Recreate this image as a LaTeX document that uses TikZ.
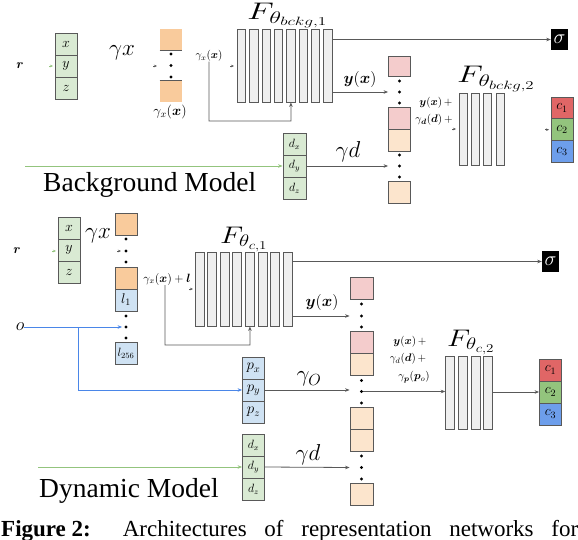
\RequirePackage{fix-cm}
\documentclass[tikz,border=0pt]{standalone}
\usepackage{fontspec}
\usepackage{amsmath}
\usepackage{bm}
\usepackage{graphicx}
\usetikzlibrary{arrows.meta,positioning}
\newfontfamily\fuentepie{Liberation Serif}

\definecolor{linea}{HTML}{595959}
\definecolor{verdeclaro}{HTML}{D9EAD3}
\definecolor{naranja}{HTML}{F9CB9C}
\definecolor{naranjaclaro}{HTML}{FCE5CD}
\definecolor{rosa}{HTML}{F4CCCC}
\definecolor{azulclaro}{HTML}{CFE2F3}
\definecolor{rojoc}{HTML}{E06666}
\definecolor{verdec}{HTML}{93C47D}
\definecolor{azulc}{HTML}{6D9EEB}
\definecolor{grisbarra}{HTML}{EFEFEF}
\definecolor{verdelinea}{HTML}{93C47D}
\definecolor{azullinea}{HTML}{4A86E8}

\tikzset{
  celda/.style={draw=linea, line width=0.8pt, minimum width=22pt, minimum height=22pt, inner sep=0pt, font=\fontsize{14}{16}\selectfont},
  barra/.style={draw=linea, fill=grisbarra, line width=0.8pt, minimum width=8.5pt, minimum height=73pt, inner sep=0pt},
  punto/.style={circle, fill=black, inner sep=0pt, minimum size=3.4pt},
  flecha/.style={draw=linea, line width=0.8pt, -{Stealth[length=4.5pt,width=3.5pt]}},
  puntita/.style={draw=linea, line width=0.4pt, -{Stealth[length=3pt,width=2.5pt]}},
  texto/.style={inner sep=0pt, font=\fontsize{#1}{#1}\selectfont},
  titulo/.style={inner sep=0pt, anchor=base west, font=\fontsize{24}{24}\selectfont},
  modelo/.style={inner sep=0pt, anchor=base west, font=\fuentepie\fontsize{27.5}{28}\selectfont},
}

\begin{document}
\begin{tikzpicture}[x=1pt, y=-1pt]
  \useasboundingbox (0,0) rectangle (578,540);
  \fill[white] (0,0) rectangle (578,540);

  % ---------- Modelo de fondo ----------
  % Entrada r y caja xyz
  \node[texto=13] (r1) at (20,66) {$\bm r$};
  \node[celda, fill=verdeclaro] (x1) at (66,44) {$x$};
  \node[celda, fill=verdeclaro] (y1) at (66,66) {$y$};
  \node[celda, fill=verdeclaro] (z1) at (66,88) {$z$};
  \coordinate (pr1) at (49,66);
  \draw[puntita, draw=verdelinea] (pr1) -- ++(4,0);

  % Codificacion gamma_x
  \node[texto=23] (gx1) at (122,53) {$\gamma x$};
  \node[celda, draw=none, fill=naranja, minimum height=21pt] (ga1) at (171,39.5) {};
  \draw[linea, line width=0.8pt] (ga1.south west) -- (ga1.south east);
  \node[punto] (gp1) at (171,54) {};
  \node[punto] (gp2) at (171,65.5) {};
  \node[punto] (gp3) at (171,77) {};
  \node[celda, draw=none, fill=naranja, minimum height=21pt] (ga2) at (171,91.5) {};
  \draw[linea, line width=0.8pt] (ga2.north west) -- (ga2.north east);
  \coordinate (pg1) at (153,66);
  \draw[puntita] (pg1) -- ++(4,0);
  \node[texto=14] (gxa) at (170,112) {$\gamma_x(\bm x)$};
  \node[texto=11] (gxb) at (209,56) {$\gamma_x(\bm x)$};
  \coordinate (pf1) at (230,66);
  \draw[puntita] (pf1) -- ++(4,0);

  % Red F_{bckg,1}
  \foreach \i in {1,...,8}
    \node[barra] (fa\i) at ({241.5+12.35*(\i-1)},65.5) {};
  \node[titulo] (tfa) at (247,19.5) {\scalebox{1.45}[1]{$F_{\theta_{bckg,1}}$}};
  \coordinate (lazo1) at (290.9,121);
  \draw[flecha] (gxb.south) |- (lazo1) -- (fa5.south);

  % Salida sigma
  \node[fill=black, text=white, minimum width=17pt, minimum height=21pt, inner sep=0pt, texto=20] (sig1) at (559.5,39.5) {$\sigma$};
  \draw[flecha] (fa8.east |- sig1) -- (sig1.west);

  % Pila de caracteristicas
  \node[celda, fill=rosa, minimum height=20pt] (pk1) at (399.5,66) {};
  \node[punto] (kp1) at (399.5,81) {};
  \node[punto] (kp2) at (399.5,92) {};
  \node[punto] (kp3) at (399.5,103) {};
  \node[celda, fill=rosa] (pk2) at (399.5,118) {};
  \node[celda, fill=naranjaclaro] (lo1) at (399.5,140) {};
  \node[punto] (kp4) at (399.5,155) {};
  \node[punto] (kp5) at (399.5,166) {};
  \node[punto] (kp6) at (399.5,177) {};
  \node[celda, fill=naranjaclaro] (lo2) at (399.5,192) {};
  \draw[flecha] (fa8.east |- kp2) -- (kp2 -| pk1.west);
  \node[texto=16] (yx1) at (360,80) {$\bm y(\bm x)$};

  % Direccion d
  \node[celda, fill=verdeclaro, minimum width=23pt, texto=12] (dx1) at (294.5,144) {$d_x$};
  \node[celda, fill=verdeclaro, minimum width=23pt, texto=12] (dy1) at (294.5,166) {$d_y$};
  \node[celda, fill=verdeclaro, minimum width=23pt, texto=12] (dz1) at (294.5,188) {$d_z$};
  \coordinate (vd1) at (25,166);
  \draw[flecha, draw=verdelinea] (vd1) -- (dy1.west);
  \draw[flecha] (dy1.east) -- (kp5 -| lo1.west);
  \node[texto=23] (gd1) at (348,152) {$\gamma d$};
  \node[modelo] (fondo) at (43,192) {Background Model};

  % Red F_{bckg,2}
  \node[texto=11] (sa1) at (436,103) {$\bm y(\bm x)\,+$};
  \node[texto=11] (sa2) at (434,120) {$\gamma_{\bm d}(\bm d)\,+$};
  \foreach \i in {1,...,4}
    \node[barra, minimum width=8pt, minimum height=72pt] (fb\i) at ({463.3+12.2*(\i-1)},129) {};
  \coordinate (pf2) at (452,129);
  \draw[puntita] (pf2) -- ++(4,0);
  \node[titulo] (tfb) at (457,83) {\scalebox{1.4}[1]{$F_{\theta_{bckg,2}}$}};

  % Salida de color
  \node[celda, fill=rojoc] (ca1) at (562,108) {$c_1$};
  \node[celda, fill=verdec] (ca2) at (562,129.7) {$c_2$};
  \node[celda, fill=azulc] (ca3) at (562,151.4) {$c_3$};
  \coordinate (pc1) at (545,129.7);
  \draw[puntita] (pc1) -- ++(4,0);

  % ---------- Modelo dinamico ----------
  % Entrada r y caja xyz
  \node[texto=13] (r2) at (17,251) {$\bm r$};
  \node[celda, fill=verdeclaro] (x2) at (69,228) {$x$};
  \node[celda, fill=verdeclaro] (y2) at (69,250) {$y$};
  \node[celda, fill=verdeclaro] (z2) at (69,272) {$z$};
  \coordinate (pr2) at (52,251);
  \draw[puntita, draw=verdelinea] (pr2) -- ++(4,0);

  % Codificacion gamma_x y codigo latente l
  \node[texto=23] (gx2) at (98,236) {$\gamma x$};
  \node[celda, fill=naranja] (gc1) at (126,224) {};
  \node[punto] (cp1) at (126,239) {};
  \node[punto] (cp2) at (126,251) {};
  \node[punto] (cp3) at (126,262) {};
  \node[celda, fill=naranja] (gc2) at (126,278) {};
  \node[celda, fill=azulclaro, texto=14] (l1) at (126,300) {$l_1$};
  \node[punto] (cp4) at (126,316) {};
  \node[punto] (cp5) at (126,327) {};
  \node[punto] (cp6) at (126,338) {};
  \node[celda, fill=azulclaro, texto=12] (l256) at (126,353) {$l_{256}$};
  \coordinate (pg2) at (117,251);
  \draw[puntita] (pg2) -- ++(4,0);
  \node[texto=12] (gxl) at (167,279) {$\gamma_x(\bm x)+\bm l$};
  \coordinate (pf3) at (189,289);
  \draw[puntita] (pf3) -- ++(4,0);

  % Red F_{c,1}
  \foreach \i in {1,...,8}
    \node[barra, minimum width=9pt, minimum height=74pt] (fc\i) at ({199.5+12.6*(\i-1)},289) {};
  \node[titulo] (tfc) at (220,243) {\scalebox{1.25}[1]{$F_{\theta_{c,1}}$}};
  \coordinate (lazo2) at (249.9,345);
  \draw[flecha] (gxl.south -| 165,0) |- (lazo2) -- (fc5.south);

  % Salida sigma
  \node[fill=black, text=white, minimum width=17pt, minimum height=21pt, inner sep=0pt, texto=20] (sig2) at (550.5,261.5) {$\sigma$};
  \draw[flecha] (fc8.east |- sig2) -- (sig2.west);

  % Pila de caracteristicas
  \node[celda, fill=rosa, minimum width=23pt] (pk3) at (361.5,288) {};
  \node[punto] (mp1) at (361.5,304) {};
  \node[punto] (mp2) at (361.5,316) {};
  \node[punto] (mp3) at (361.5,327) {};
  \node[celda, fill=rosa, minimum width=23pt] (pk4) at (361.5,342) {};
  \node[celda, fill=naranjaclaro, minimum width=23pt] (lo3) at (361.5,364.5) {};
  \node[punto] (mp4) at (361.5,380.5) {};
  \node[punto] (mp5) at (361.5,391.5) {};
  \node[punto] (mp6) at (361.5,403) {};
  \node[celda, fill=naranjaclaro, minimum width=23pt] (lo4) at (361.5,418) {};
  \node[celda, fill=naranjaclaro, minimum width=23pt] (lo5) at (361.5,440) {};
  \node[punto] (mp7) at (361.5,456) {};
  \node[punto] (mp8) at (361.5,467.5) {};
  \node[punto] (mp9) at (361.5,479) {};
  \node[celda, fill=naranjaclaro, minimum width=23pt] (lo6) at (361.5,494) {};
  \draw[flecha] (fc8.east |- mp2) -- (mp2 -| pk3.west);
  \node[texto=16] (yx2) at (322,302) {$\bm y(\bm x)$};

  % Objeto o y posicion p
  \node[texto=18] (o) at (20,327) {$o$};
  \coordinate (rama) at (78,327);
  \draw[flecha, draw=azullinea] (o.east) -- ([xshift=-2pt]cp5.west);
  \node[celda, fill=azulclaro, texto=15] (px) at (253.5,368) {$p_x$};
  \node[celda, fill=azulclaro, texto=15] (py) at (253.5,390) {$p_y$};
  \node[celda, fill=azulclaro, texto=15] (pz) at (253.5,412) {$p_z$};
  \draw[flecha, draw=azullinea] (rama) |- (py.west);
  \draw[flecha] (py.east) -- (py.east -| lo3.west);
  \node[texto=23] (go) at (309,379) {$\gamma_O$};

  % Direccion d
  \node[celda, fill=verdeclaro, texto=12] (dx2) at (253.5,445) {$d_x$};
  \node[celda, fill=verdeclaro, texto=12] (dy2) at (253.5,467) {$d_y$};
  \node[celda, fill=verdeclaro, texto=12] (dz2) at (253.5,489) {$d_z$};
  \coordinate (vd2) at (38,467);
  \draw[flecha, draw=verdelinea] (vd2) -- (dy2.west);
  \draw[flecha] (dy2.east) -- (mp8 -| lo5.west);
  \node[texto=23] (gd2) at (308,455) {$\gamma d$};
  \node[modelo] (dinamico) at (39,497) {Dynamic Model};

  % Red F_{c,2}
  \node[texto=11] (sb1) at (410,342) {$\bm y(\bm x)\,+$};
  \node[texto=11] (sb2) at (408,359) {$\gamma_d(\bm d)\,+$};
  \node[texto=11] (sb3) at (414,377) {$\gamma_{\bm p}(\bm p_o)$};
  \foreach \i in {1,...,4}
    \node[barra, minimum width=9pt] (fd\i) at ({450.2+12.67*(\i-1)},392.5) {};
  \node[titulo] (tfd) at (447,346) {\scalebox{1.25}[1]{$F_{\theta_{c,2}}$}};
  \draw[flecha] (mp5) -- (mp5 -| fd1.west);

  % Salida de color
  \node[celda, fill=rojoc] (cb1) at (550.5,370) {$c_1$};
  \node[celda, fill=verdec] (cb2) at (550.5,392) {$c_2$};
  \node[celda, fill=azulc] (cb3) at (550.5,414) {$c_3$};
  \draw[flecha] (fd4.east |- cb2) -- (cb2.west);

  % Pie de figura
  \node[anchor=base west, inner sep=0pt, font=\fuentepie\fontsize{23}{25}\selectfont] (pie) at (1,536)
    {\hbox to 577pt{\textbf{Figure 2:}\hspace{32pt}Architectures\hfill of\hfill representation\hfill networks\hfill for}};
\end{tikzpicture}
\end{document}
